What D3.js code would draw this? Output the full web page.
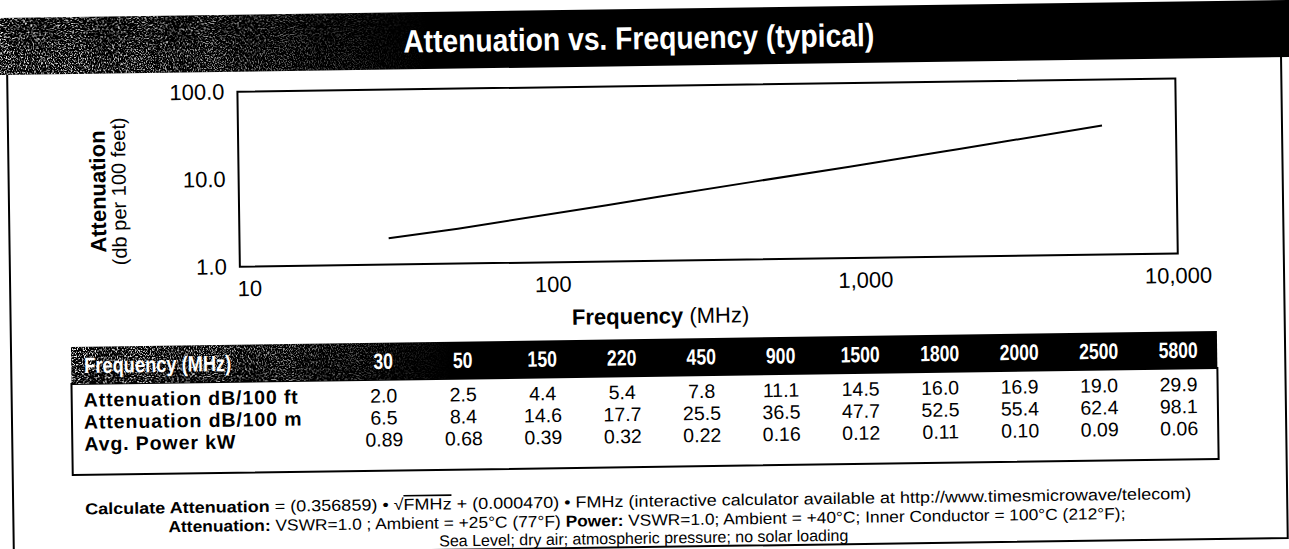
<!DOCTYPE html>
<html>
<head>
<meta charset="utf-8">
<script src="https://cdn.jsdelivr.net/npm/d3@7"></script>
<style>
html, body { margin: 0; padding: 0; background: #fff; }
svg { display: block; }
</style>
</head>
<body>
<div id="chart"></div>
<script>
// table data (frequency in MHz)
var freqs = [30, 50, 150, 220, 450, 900, 1500, 1800, 2000, 2500, 5800];
var attFt = [2.0, 2.5, 4.4, 5.4, 7.8, 11.1, 14.5, 16.0, 16.9, 19.0, 29.9];
var attM = [6.5, 8.4, 14.6, 17.7, 25.5, 36.5, 47.7, 52.5, 55.4, 62.4, 98.1];
var powerKw = [0.89, 0.68, 0.39, 0.32, 0.22, 0.16, 0.12, 0.11, 0.10, 0.09, 0.06];
var rowLabels = ["Attenuation dB/100 ft", "Attenuation dB/100 m", "Avg. Power kW"];
var xTicks = [10, 100, 1000, 10000];
var yTicks = [1, 10, 100];

var W = 1289, H = 549;
var sans = "'Liberation Sans', Arial, Helvetica, sans-serif";

var svg = d3.select("#chart").append("svg")
	.attr("width", W)
	.attr("height", H);

var defs = svg.append("defs");

// speckle texture for the dark bands
var grain = defs.append("filter")
	.attr("id", "grain")
	.attr("x", 0).attr("y", 0).attr("width", "100%").attr("height", "100%");
grain.append("feTurbulence")
	.attr("type", "fractalNoise")
	.attr("baseFrequency", "0.85")
	.attr("numOctaves", 2)
	.attr("seed", 7);
grain.append("feColorMatrix")
	.attr("type", "matrix")
	.attr("values", "0 0 0 0 0.85  0 0 0 0 0.85  0 0 0 0 0.85  6 0 0 0 -2.9");

var fade = defs.append("linearGradient").attr("id", "fadeGrad");
fade.append("stop").attr("offset", "0").attr("stop-color", "#fff");
fade.append("stop").attr("offset", "0.5").attr("stop-color", "#aaa");
fade.append("stop").attr("offset", "1").attr("stop-color", "#000");

defs.append("mask")
	.attr("id", "fadeMask")
	.attr("maskContentUnits", "objectBoundingBox")
	.append("rect")
		.attr("x", 0).attr("y", 0).attr("width", 1).attr("height", 1)
		.attr("fill", "url(#fadeGrad)");

svg.append("rect").attr("width", W).attr("height", H).attr("fill", "#fff");

// the scan is slightly tilted
var g = svg.append("g").attr("transform", "rotate(-0.8, 644, 274)");

// title bar
g.append("rect")
	.attr("x", -30).attr("y", 9)
	.attr("width", W + 60).attr("height", 57)
	.attr("fill", "#000");
g.append("rect")
	.attr("x", -30).attr("y", 9)
	.attr("width", 460).attr("height", 57)
	.attr("fill", "#fff")
	.attr("filter", "url(#grain)")
	.attr("mask", "url(#fadeMask)");
g.append("text")
	.attr("x", 642).attr("y", 38)
	.attr("dy", "0.35em")
	.attr("text-anchor", "middle")
	.attr("font-family", sans)
	.attr("font-weight", "bold")
	.attr("font-size", 32)
	.attr("fill", "#fff")
	.attr("textLength", 471)
	.attr("lengthAdjust", "spacingAndGlyphs")
	.text("Attenuation vs. Frequency (typical)");

// outer frame
g.append("path")
	.attr("d", "M10,66 V547 H1284 V66")
	.attr("fill", "none")
	.attr("stroke", "#000")
	.attr("stroke-width", 2);

// plot
var x = d3.scaleLog().domain([10, 10000]).range([240, 1178]);
var y = d3.scaleLog().domain([1, 100]).range([261, 86]);

g.append("rect")
	.attr("x", x.range()[0]).attr("y", y.range()[1])
	.attr("width", x.range()[1] - x.range()[0])
	.attr("height", y.range()[0] - y.range()[1])
	.attr("fill", "none")
	.attr("stroke", "#000")
	.attr("stroke-width", 2);

var yAxis = g.append("g")
	.attr("transform", "translate(" + x.range()[0] + ",0)")
	.call(d3.axisLeft(y).tickValues(yTicks).tickFormat(d3.format(".1f")).tickSize(0).tickPadding(13));
yAxis.select(".domain").remove();
yAxis.selectAll("text")
	.attr("font-family", sans)
	.attr("font-size", 22)
	.attr("fill", "#000");

var xAxis = g.append("g")
	.attr("transform", "translate(0," + y.range()[0] + ")")
	.call(d3.axisBottom(x).tickValues(xTicks).tickFormat(d3.format(",")).tickSize(0).tickPadding(14));
xAxis.select(".domain").remove();
xAxis.selectAll("text")
	.attr("font-family", sans)
	.attr("font-size", 22)
	.attr("fill", "#000")
	.attr("text-anchor", function(d) { return d === xTicks[0] ? "start" : "middle"; })
	.attr("x", function(d) { return d === xTicks[0] ? -3 : 0; });

var pts = freqs.map(function(f, i) { return { f: f, a: attFt[i] }; });
g.append("path")
	.datum(pts)
	.attr("fill", "none")
	.attr("stroke", "#000")
	.attr("stroke-width", 2)
	.attr("d", d3.line()
		.x(function(d) { return x(d.f); })
		.y(function(d) { return y(d.a); }));

// axis titles
var yt = g.append("g").attr("transform", "translate(99,184) rotate(-90)");
yt.append("text")
	.attr("text-anchor", "middle").attr("dy", "0.35em")
	.attr("font-family", sans).attr("font-weight", "bold").attr("font-size", 22)
	.text("Attenuation");
yt.append("text")
	.attr("text-anchor", "middle").attr("dy", "0.35em").attr("y", 21)
	.attr("font-family", sans).attr("font-size", 20)
	.text("(db per 100 feet)");

var xt = g.append("text")
	.attr("x", 660).attr("y", 316)
	.attr("dy", "0.35em")
	.attr("text-anchor", "middle")
	.attr("font-family", sans).attr("font-size", 22);
xt.append("tspan").attr("font-weight", "bold").text("Frequency");
xt.append("tspan").text(" (MHz)");

// data table
var tbl = { x0: 70, x1: 1216, top: 339, head: 376, bottom: 467 };
var col = d3.scalePoint().domain(freqs.map(String)).range([382, 1177]);
var row = d3.scalePoint().domain(rowLabels).range([392, 436]);

g.append("rect")
	.attr("x", tbl.x0).attr("y", tbl.head)
	.attr("width", tbl.x1 - tbl.x0).attr("height", tbl.bottom - tbl.head)
	.attr("fill", "#fff")
	.attr("stroke", "#000")
	.attr("stroke-width", 2);
g.append("rect")
	.attr("x", tbl.x0).attr("y", tbl.top)
	.attr("width", tbl.x1 - tbl.x0).attr("height", tbl.head - tbl.top)
	.attr("fill", "#000");
g.append("rect")
	.attr("x", tbl.x0).attr("y", tbl.top)
	.attr("width", 380).attr("height", tbl.head - tbl.top)
	.attr("fill", "#fff")
	.attr("filter", "url(#grain)")
	.attr("mask", "url(#fadeMask)");

var headY = (tbl.top + tbl.head) / 2;
g.append("text")
	.attr("x", 83).attr("y", headY).attr("dy", "0.35em")
	.attr("font-family", sans).attr("font-weight", "bold").attr("font-size", 22)
	.attr("fill", "#fff")
	.attr("textLength", 147).attr("lengthAdjust", "spacingAndGlyphs")
	.text("Frequency (MHz)");
g.selectAll("text.freq")
	.data(freqs)
	.enter()
	.append("text")
		.classed("freq", true)
		.attr("transform", function(d) { return "translate(" + col(String(d)) + "," + headY + ") scale(0.8,1)"; })
		.attr("dy", "0.35em")
		.attr("text-anchor", "middle")
		.attr("font-family", sans).attr("font-weight", "bold").attr("font-size", 22)
		.attr("fill", "#fff")
		.text(function(d) { return d; });

g.selectAll("text.rowlabel")
	.data(rowLabels)
	.enter()
	.append("text")
		.classed("rowlabel", true)
		.attr("x", 82)
		.attr("y", function(d) { return row(d); }).attr("dy", "0.35em")
		.attr("font-family", sans).attr("font-weight", "bold").attr("font-size", 19.5)
		.attr("letter-spacing", 0.9)
		.text(function(d) { return d; });

var rows = [
	{ label: rowLabels[0], vals: attFt, fmt: d3.format(".1f") },
	{ label: rowLabels[1], vals: attM, fmt: d3.format(".1f") },
	{ label: rowLabels[2], vals: powerKw, fmt: d3.format(".2f") }
];
rows.forEach(function(r) {
	g.selectAll(null)
		.data(r.vals)
		.enter()
		.append("text")
			.attr("x", function(d, i) { return col(String(freqs[i])); })
			.attr("y", row(r.label)).attr("dy", "0.35em")
			.attr("text-anchor", "middle")
			.attr("font-family", sans).attr("font-size", 19.5)
			.text(function(d) { return r.fmt(d); });
});

// footnotes
var n1 = g.append("text")
	.attr("x", 82).attr("y", 501).attr("dy", "0.35em")
	.attr("font-family", sans).attr("font-size", 16)
	.attr("textLength", 1106).attr("lengthAdjust", "spacingAndGlyphs");
n1.append("tspan").attr("font-weight", "bold").text("Calculate Attenuation");
n1.append("tspan").text(" = (0.356859) \u2022 \u221A");
n1.append("tspan").attr("text-decoration", "overline").text("FMHz");
n1.append("tspan").text(" +  (0.000470) \u2022  FMHz (interactive calculator available at http://www.timesmicrowave/telecom)");

var n2 = g.append("text")
	.attr("x", 165).attr("y", 520).attr("dy", "0.35em")
	.attr("font-family", sans).attr("font-size", 16)
	.attr("textLength", 957).attr("lengthAdjust", "spacingAndGlyphs");
n2.append("tspan").attr("font-weight", "bold").text("Attenuation:");
n2.append("tspan").text(" VSWR=1.0 ; Ambient = +25\u00B0C (77\u00B0F) ");
n2.append("tspan").attr("font-weight", "bold").text("Power:");
n2.append("tspan").text(" VSWR=1.0; Ambient = +40\u00B0C; Inner Conductor = 100\u00B0C (212\u00B0F);");

g.append("text")
	.attr("x", 640).attr("y", 538).attr("dy", "0.35em")
	.attr("text-anchor", "middle")
	.attr("font-family", sans).attr("font-size", 16)
	.text("Sea Level; dry air; atmospheric pressure; no solar loading");
</script>
</body>
</html>
